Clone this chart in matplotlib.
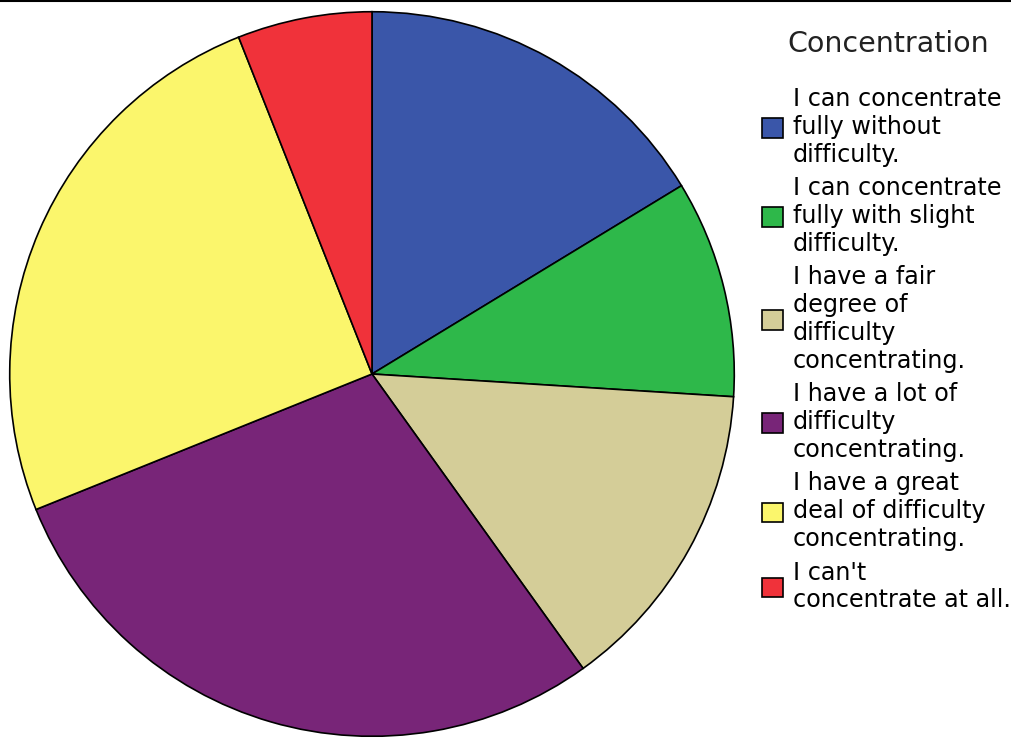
import matplotlib
matplotlib.use("Agg")
import matplotlib.pyplot as plt
from matplotlib.lines import Line2D

# percentages
labels = [
    "I can concentrate\nfully without\ndifficulty.",
    "I can concentrate\nfully with slight\ndifficulty.",
    "I have a fair\ndegree of\ndifficulty\nconcentrating.",
    "I have a lot of\ndifficulty\nconcentrating.",
    "I have a great\ndeal of difficulty\nconcentrating.",
    "I can't\nconcentrate at all.",
]
values = [16.3, 9.7, 14.1, 28.8, 25.1, 6.0]
colors = ["#3a56a9", "#2eb84a", "#d4cd98", "#782578", "#fbf66c", "#f0323a"]

plt.rcParams['font.family'] = ['DejaVu Sans']

fig = plt.figure(figsize=(10.11, 7.42), dpi=100)
ax = fig.add_axes([9 / 1011, 5 / 742, 726 / 1011, 726 / 742])
wedges, _ = ax.pie(values, colors=colors, startangle=90, counterclock=False,
                   wedgeprops=dict(edgecolor="black", linewidth=1.2))
ax.set_xlim(-1.002, 1.002)
ax.set_ylim(-1.002, 1.002)
ax.set_aspect("equal")
ax.axis("off")

fig.text(888 / 1011, 1 - 44 / 742, "Concentration", ha="center", va="center",
         fontsize=20.5, color="#222222")

leg = fig.legend(wedges, labels, loc="upper left",
                 bbox_to_anchor=(750 / 1011, 1 - 75 / 742),
                 frameon=False, fontsize=17.2,
                 handlelength=0.88, handleheight=0.88,
                 handletextpad=0.42, labelspacing=0.4, borderpad=0)
for t in leg.get_texts():
    t.set_linespacing(1.2)

# thin rule along the top edge
fig.add_artist(Line2D([0, 1], [0.998, 0.998], color="black", linewidth=1.5,
                      transform=fig.transFigure))

fig.savefig("out.png", dpi=100)
